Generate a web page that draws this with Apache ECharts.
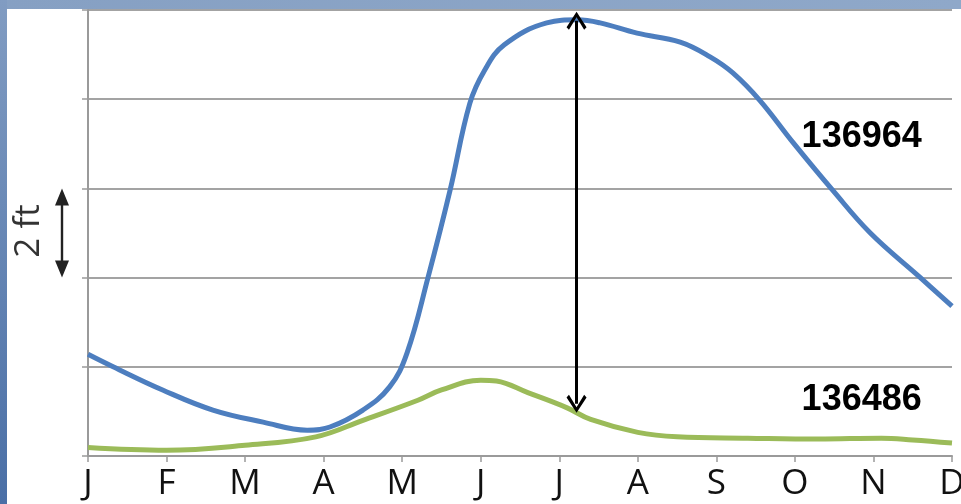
<!DOCTYPE html>
<html>
<head>
<meta charset="utf-8">
<script src="https://cdn.jsdelivr.net/npm/echarts@6/dist/echarts.min.js"></script>
<style>
html,body{margin:0;padding:0;background:#fff;overflow:hidden;}
#c{width:961px;height:504px;}
</style>
</head>
<body>
<div id="c"></div>
<script>
// Month tick labels (x = month index 0..11)
var months = ['J','F','M','A','M','J','J','A','S','O','N','D'];
// Series names (station IDs)
var seriesNames = ['136964', '136486'];
// Blue series: [month position, feet]
var upperStation = [
  [0.00, 2.28], [0.32, 2.00], [0.95, 1.48], [1.59, 1.03], [2.23, 0.76],
  [2.79, 0.58], [3.08, 0.65], [3.50, 1.03], [3.84, 1.55], [4.06, 2.30],
  [4.33, 4.01], [4.61, 5.96], [4.86, 7.90], [5.05, 8.65], [5.30, 9.22],
  [5.84, 9.71], [6.23, 9.78], [6.52, 9.71], [6.99, 9.48], [7.54, 9.28],
  [7.92, 8.95], [8.21, 8.59], [8.55, 7.98], [8.98, 7.02], [9.48, 5.96],
  [9.96, 5.00], [10.59, 4.01], [11.00, 3.36]
];
// Green series: [month position, feet]
var lowerStation = [
  [0.00, 0.19], [1.00, 0.13], [2.00, 0.24], [2.90, 0.43], [3.50, 0.80],
  [4.20, 1.25], [4.50, 1.48], [5.00, 1.70], [5.20, 1.68], [5.60, 1.42],
  [6.10, 1.08], [6.40, 0.82], [7.00, 0.53], [7.50, 0.43], [8.40, 0.40],
  [9.30, 0.38], [10.10, 0.40], [10.50, 0.36], [11.00, 0.29]
];
// Range arrow between peak of upper and lower station in early July
var rangeArrow = [[6.22, 9.76], [6.22, 1.17]];
// Label anchor points for the station IDs
var labelPoints = [[9.85, 7.15], [9.85, 1.26]];
// Scale bar: one grid step
var scaleBar = [4, 6];
var scaleText = '2 ft';

var chevron = 'path://M0,0 L10,12 L7.6,14 L0,4.4 L-7.6,14 L-10,12 Z';

var chart = echarts.init(document.getElementById('c'), null, {renderer:'canvas'});
var option = {
  animation: false,
  backgroundColor: '#ffffff',
  grid: {left: 88, top: 10, right: 9, bottom: 48, containLabel: false, outerBoundsMode: 'none'},
  xAxis: {
    type: 'value', min: 0, max: 11, interval: 1,
    axisLine: {show: true, lineStyle: {color: '#9a9a9a', width: 2}},
    axisTick: {show: true, length: 6, lineStyle: {color: '#9a9a9a', width: 1.5}},
    splitLine: {show: false},
    axisLabel: {
      margin: 11, fontSize: 35, color: '#111', fontFamily: 'Open Sans',
      hideOverlap: false, showMinLabel: true, showMaxLabel: true,
      formatter: function(v){ return months[Math.round(v)]; }
    }
  },
  yAxis: {
    type: 'value', min: 0, max: 10, interval: 2,
    axisLine: {show: true, lineStyle: {color: '#9a9a9a', width: 2}},
    axisTick: {show: true, length: 6, lineStyle: {color: '#9a9a9a', width: 1.5}},
    axisLabel: {show: false},
    splitLine: {show: true, lineStyle: {color: '#a3a3a3', width: 1.8}}
  },
  series: [
    {
      name: seriesNames[0], type: 'line', data: upperStation, smooth: 0.4,
      showSymbol: false, symbol: 'none',
      lineStyle: {color: '#4d7ebf', width: 5},
      z: 3,
      markPoint: {
        symbol: 'circle', symbolSize: 0,
        label: {show: true, formatter: seriesNames[0], fontFamily: 'Liberation Sans', fontWeight: 'bold', fontSize: 36, color: '#000'},
        data: [{coord: labelPoints[0]}]
      },
      markLine: {
        silent: true, symbol: [chevron, chevron], symbolSize: [20, 18],
        label: {show: false},
        lineStyle: {color: '#000', width: 3, type: 'solid'},
        data: [[{coord: rangeArrow[0]}, {coord: rangeArrow[1]}]]
      }
    },
    {
      name: seriesNames[1], type: 'line', data: lowerStation, smooth: 0.4,
      showSymbol: false, symbol: 'none',
      lineStyle: {color: '#9bbb59', width: 5},
      z: 2,
      markPoint: {
        symbol: 'circle', symbolSize: 0,
        label: {show: true, formatter: seriesNames[1], fontFamily: 'Liberation Sans', fontWeight: 'bold', fontSize: 36, color: '#000'},
        data: [{coord: labelPoints[1]}]
      }
    }
  ]
};
chart.setOption(option);

var pTop = chart.convertToPixel({gridIndex: 0}, [0, scaleBar[1]]);
var pBot = chart.convertToPixel({gridIndex: 0}, [0, scaleBar[0]]);
var ax = 62;
chart.setOption({
  graphic: [
    {type: 'rect', z: 100, shape: {x: 0, y: 0, width: 961, height: 9},
     style: {fill: new echarts.graphic.LinearGradient(0,0,1,0,[{offset:0,color:'#86a0c3'},{offset:1,color:'#8fa8c9'}])}},
    {type: 'rect', z: 100, shape: {x: 0, y: 0, width: 7, height: 504},
     style: {fill: new echarts.graphic.LinearGradient(0,0,0,1,[{offset:0,color:'#819cc2'},{offset:1,color:'#4a6fa6'}])}},
    {type: 'text', z: 50, x: 29, y: (pTop[1] + pBot[1]) / 2 - 2, rotation: Math.PI / 2,
     style: {text: scaleText, fontSize: 35, fontFamily: 'Open Sans', fill: '#333', align: 'center', verticalAlign: 'middle'}},
    {type: 'line', z: 50, shape: {x1: ax, y1: pTop[1] + 10, x2: ax, y2: pBot[1] - 10}, style: {stroke: '#222', lineWidth: 2.4}},
    {type: 'polygon', z: 50, shape: {points: [[ax, pTop[1]], [ax - 7, pTop[1] + 17], [ax + 7, pTop[1] + 17]]}, style: {fill: '#222'}},
    {type: 'polygon', z: 50, shape: {points: [[ax, pBot[1]], [ax - 7, pBot[1] - 17], [ax + 7, pBot[1] - 17]]}, style: {fill: '#222'}}
  ]
});
</script>
</body>
</html>
